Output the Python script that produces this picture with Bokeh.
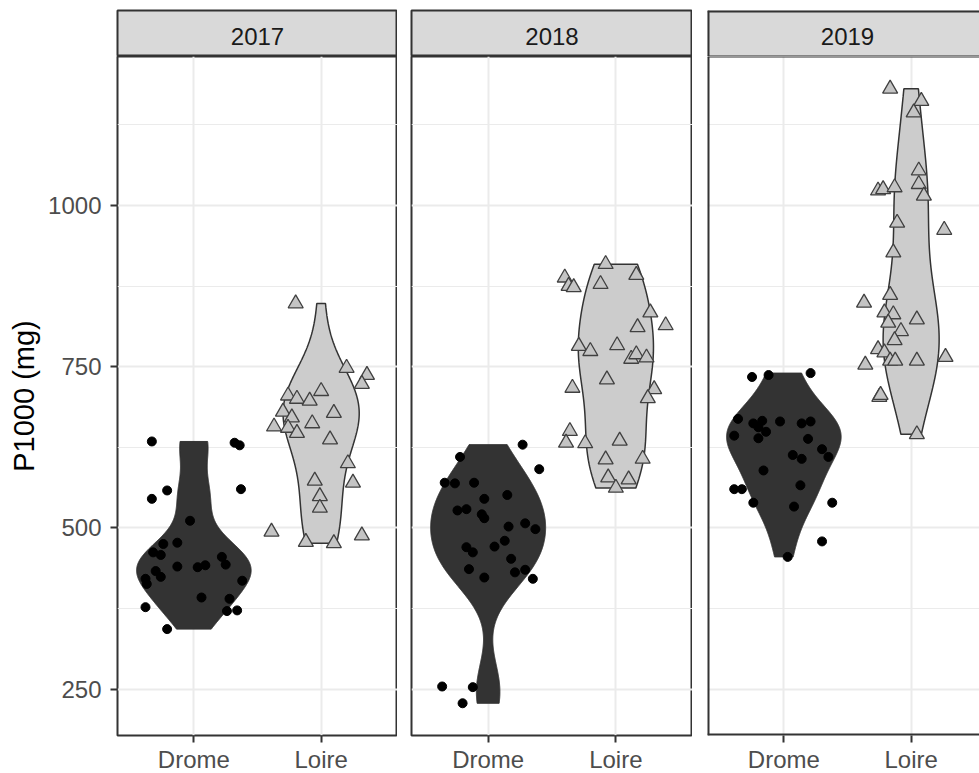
import numpy as np
from bokeh.plotting import figure
from bokeh.layouts import row, column
from bokeh.models import Range1d, FixedTicker, ColumnDataSource, Label, Span
from bokeh.embed import file_html
from bokeh.resources import INLINE

# ---------------- data ----------------
years = ["2017", "2018", "2019"]
sites = ["Drome", "Loire"]
y_ticks = [250, 500, 750, 1000]
y_minor = [125, 375, 625, 875, 1125]

drome_2017 = [634, 632, 628, 558, 545, 560, 511, 475, 477, 462, 458, 455, 443, 440,
              439, 442, 433, 424, 421, 413, 418, 392, 390, 377, 371, 372, 343]
drome_2017_jit = [-0.33, 0.32, 0.36, -0.21, -0.33, 0.37, -0.03, -0.24, -0.13, -0.32, -0.26,
                  0.22, 0.25, -0.13, 0.03, 0.09, -0.30, -0.26, -0.38, -0.37, 0.38, 0.06,
                  0.28, -0.38, 0.26, 0.34, -0.21]

loire_2017 = [848, 748, 737, 723, 712, 705, 700, 697, 678, 680, 671, 662, 657, 655,
              647, 637, 600, 570, 573, 549, 531, 494, 488, 478, 476]
loire_2017_jit = [-0.20, 0.20, 0.36, 0.32, 0.00, -0.26, -0.19, -0.09, 0.10, -0.30, -0.23,
                  -0.07, -0.37, -0.26, -0.19, 0.07, 0.21, 0.25, -0.05, -0.01, -0.01,
                  -0.39, 0.32, -0.12, 0.10]

drome_2018 = [629, 610, 591, 570, 569, 570, 551, 545, 527, 529, 521, 515, 507, 502,
              498, 480, 471, 470, 462, 452, 436, 431, 435, 423, 421, 254, 253, 228]
drome_2018_jit = [0.27, -0.22, 0.40, -0.34, -0.26, -0.11, 0.15, -0.03, -0.24, -0.17, -0.05,
                  -0.03, 0.29, 0.16, 0.37, 0.13, 0.05, -0.17, -0.12, 0.18, -0.15, 0.21,
                  0.29, -0.03, 0.35, -0.36, -0.12, -0.20]

loire_2018 = [909, 888, 875, 873, 878, 892, 834, 814, 811, 782, 774, 783, 762, 769,
              764, 730, 717, 715, 701, 650, 632, 631, 635, 607, 606, 578, 575, 562]
loire_2018_jit = [-0.08, -0.40, -0.37, -0.33, -0.12, 0.16, 0.27, 0.39, 0.17, -0.29, -0.20,
                  0.01, 0.12, 0.16, 0.24, -0.07, -0.34, 0.30, 0.25, -0.36, -0.39, -0.24,
                  0.03, 0.21, -0.08, -0.06, 0.10, 0.00]

drome_2019 = [734, 737, 740, 669, 662, 666, 656, 649, 665, 662, 665, 643, 639, 638,
              622, 610, 613, 607, 589, 566, 560, 560, 539, 533, 539, 479, 455]
drome_2019_jit = [-0.25, -0.12, 0.21, -0.36, -0.24, -0.17, -0.20, -0.14, -0.03, 0.14, 0.21,
                  -0.39, -0.20, 0.19, 0.30, 0.35, 0.07, 0.14, -0.16, 0.13, -0.39, -0.33,
                  -0.24, 0.08, 0.38, 0.30, 0.03]

loire_2019 = [1181, 1162, 1144, 1054, 1033, 1015, 1023, 1025, 1028, 973, 962, 927, 849,
              861, 834, 831, 818, 823, 805, 791, 777, 772, 759, 759, 753, 759, 765, 703,
              706, 645]
loire_2019_jit = [-0.165, 0.08, 0.02, 0.06, 0.06, 0.10, -0.26, -0.22, -0.13, -0.11, 0.26,
                  -0.14, -0.37, -0.165, -0.21, -0.14, -0.18, 0.045, -0.08, -0.13, -0.26,
                  -0.21, -0.165, -0.125, -0.36, 0.045, 0.27, -0.25, -0.24, 0.045]

data = {
    "2017": {"Drome": (drome_2017, drome_2017_jit), "Loire": (loire_2017, loire_2017_jit)},
    "2018": {"Drome": (drome_2018, drome_2018_jit), "Loire": (loire_2018, loire_2018_jit)},
    "2019": {"Drome": (drome_2019, drome_2019_jit), "Loire": (loire_2019, loire_2019_jit)},
}

# ---------------- styling ----------------
FONT = "Liberation Sans"
Y_LO, Y_HI = 178, 1231
X_LO, X_HI = 0.4, 2.6
PX_PER_UNIT = 280 / (X_HI - X_LO)
FRAME_H = 679
BORDER = "#333333"
GRID = "#ebebeb"
VIOLIN_FILL = {"Drome": "#333333", "Loire": "#cccccc"}
BW_ADJUST = 1.2


def density(y):
    """Gaussian KDE as in ggplot2's stat_ydensity (bw.nrd0 * adjust, trimmed)."""
    y = np.asarray(y, float)
    n = len(y)
    sd = y.std(ddof=1)
    q75, q25 = np.percentile(y, [75, 25])
    bw = BW_ADJUST * 0.9 * min(sd, (q75 - q25) / 1.34) * n ** -0.2
    grid = np.linspace(y.min(), y.max(), 512)
    d = np.exp(-0.5 * ((grid[:, None] - y[None, :]) / bw) ** 2).sum(1) / (n * bw * np.sqrt(2 * np.pi))
    return grid, d


panels = []
strips = []
specs = [  # frame width, left border, x end
    (280, 117, X_HI),
    (281, 14, X_HI),
    (272, 15, X_LO + 272 / PX_PER_UNIT),
]

for i, year in enumerate(years):
    fw, bl, xend = specs[i]
    last = i == len(years) - 1
    xr = Range1d(X_LO, xend)
    p = figure(x_range=xr, y_range=Range1d(Y_LO, Y_HI), title=None,
               frame_width=fw, frame_height=FRAME_H,
               min_border_left=bl, min_border_right=0, min_border_top=0, min_border_bottom=0,
               y_axis_location="left" if i == 0 else None,
               output_backend="svg", toolbar_location=None)
    p.background_fill_color = "white"
    p.border_fill_color = "white"
    if last:
        # panel runs past the picture's right edge: border on three sides only
        p.outline_line_color = None
        for loc, dim, w in [(X_LO, "height", 4), (Y_LO, "width", 4), (Y_HI, "width", 2)]:
            p.add_layout(Span(location=loc, dimension=dim, line_color=BORDER, line_width=w))
    else:
        p.outline_line_color = BORDER
        p.outline_line_width = 2

    # grid
    p.xgrid.ticker = FixedTicker(ticks=[1, 2], minor_ticks=[])
    p.xgrid.grid_line_color = GRID
    p.xgrid.grid_line_width = 2
    p.ygrid.ticker = FixedTicker(ticks=y_ticks, minor_ticks=y_minor)
    p.ygrid.grid_line_color = GRID
    p.ygrid.grid_line_width = 2
    p.ygrid.minor_grid_line_color = GRID
    p.ygrid.minor_grid_line_width = 1.2

    # x axis
    xa = p.xaxis[0]
    xa.ticker = FixedTicker(ticks=[1, 2], minor_ticks=[])
    xa.major_label_overrides = {1: sites[0], 2: sites[1]}
    xa.axis_line_color = None
    xa.major_tick_line_color = BORDER
    xa.major_tick_line_width = 2
    xa.major_tick_out = 7
    xa.major_tick_in = 0
    xa.minor_tick_line_color = None
    xa.major_label_text_font = FONT
    xa.major_label_text_font_size = "24px"
    xa.major_label_text_color = "#4d4d4d"
    xa.major_label_standoff = 3

    if i == 0:
        ya = p.yaxis[0]
        ya.ticker = FixedTicker(ticks=y_ticks, minor_ticks=[])
        ya.axis_line_color = None
        ya.major_tick_line_color = BORDER
        ya.major_tick_line_width = 2
        ya.major_tick_out = 7
        ya.major_tick_in = 0
        ya.minor_tick_line_color = None
        ya.major_label_text_font = FONT
        ya.major_label_text_font_size = "24px"
        ya.major_label_text_color = "#4d4d4d"
        ya.major_label_standoff = 9
        ya.axis_label = "P1000 (mg)"
        ya.axis_label_text_font = FONT
        ya.axis_label_text_font_size = "29px"
        ya.axis_label_text_font_style = "normal"
        ya.axis_label_text_color = "black"
        ya.axis_label_standoff = 5

    # violins (scale = "area": width relative to max density in the panel)
    profiles = {s: density(data[year][s][0]) for s in sites}
    dmax = max(d.max() for _, d in profiles.values())
    for k, s in enumerate(sites):
        grid, d = profiles[s]
        half = d / dmax * 0.45
        cx = k + 1
        xs = np.concatenate([cx - half, (cx + half)[::-1]])
        ys = np.concatenate([grid, grid[::-1]])
        p.patch(xs, ys, fill_color=VIOLIN_FILL[s], line_color=BORDER,
                line_width=1.5 if s == "Loire" else 1)

    # jittered points
    for k, s in enumerate(sites):
        yv, jit = data[year][s]
        src = ColumnDataSource(dict(x=[k + 1 + j for j in jit], y=yv))
        if s == "Drome":
            p.scatter("x", "y", source=src, marker="circle", size=9,
                      fill_color="black", line_color="black")
        else:
            p.scatter("x", "y", source=src, marker="triangle", size=15,
                      fill_color="#c4c4c4", line_color="#404040", line_width=1.3)

    # facet strip
    s_fig = figure(x_range=xr, y_range=Range1d(0, 1), title=None,
                   frame_width=fw, frame_height=46,
                   min_border_left=bl, min_border_right=0, min_border_top=10, min_border_bottom=0,
                   x_axis_location=None, y_axis_location=None,
                   output_backend="svg", toolbar_location=None)
    s_fig.grid.visible = False
    s_fig.background_fill_color = "#d9d9d9"
    s_fig.border_fill_color = "white"
    if last:
        s_fig.outline_line_color = None
        for loc, dim, w in [(X_LO, "height", 4), (0, "width", 2), (1, "width", 4)]:
            s_fig.add_layout(Span(location=loc, dimension=dim, line_color=BORDER, line_width=w))
    else:
        s_fig.outline_line_color = BORDER
        s_fig.outline_line_width = 2
    s_fig.add_layout(Label(x=(X_LO + X_HI) / 2, y=0.44, text=year, text_align="center",
                           text_baseline="middle", text_font=FONT,
                           text_font_size="24px", text_color="#1a1a1a"))
    panels.append(p)
    strips.append(s_fig)

layout = column(row(*strips), row(*panels))
open("out.html", "w").write(file_html(layout, INLINE))
